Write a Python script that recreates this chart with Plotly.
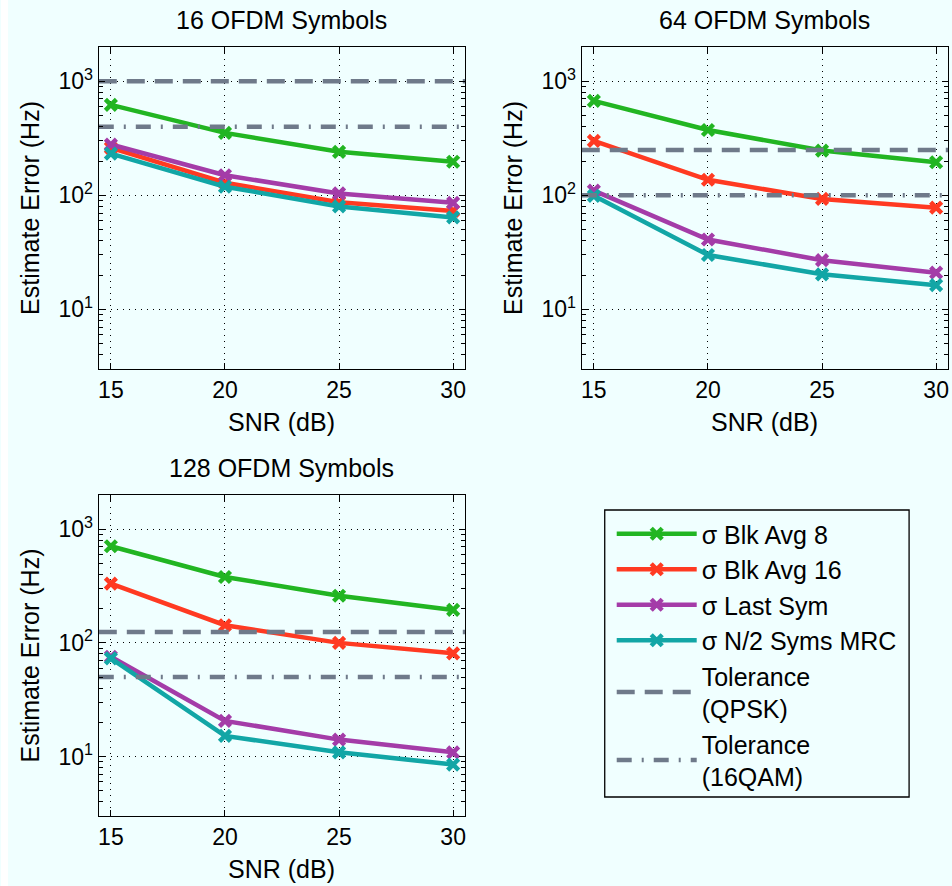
import math
import plotly.graph_objects as go

# ---------------- data ----------------
snr = [15, 20, 25, 30]
series_names = ["σ Blk Avg 8", "σ Blk Avg 16", "σ Last Sym", "σ N/2 Syms MRC"]
series_colors = ["#22B522", "#FF3A22", "#A43CA8", "#12A6A6"]

blk8_16 = [621, 353, 241, 197]
blk16_16 = [261, 129, 87, 73]
last_16 = [279, 150, 104, 86]
mrc_16 = [232, 119, 80, 64]

blk8_64 = [673, 374, 247, 195]
blk16_64 = [300, 137, 93, 78]
last_64 = [110, 41, 27, 21]
mrc_64 = [99, 30, 20.3, 16.3]

blk8_128 = [708, 380, 260, 195]
blk16_128 = [332, 143, 100, 81]
last_128 = [75.5, 20.6, 14.1, 10.9]
mrc_128 = [73, 15.2, 10.9, 8.5]

tol_qpsk = [1000, 250, 125]
tol_16qam = [400, 100, 50]
tol_names = ["Tolerance<br>(QPSK)", "Tolerance<br>(16QAM)"]
panel_titles = ["16 OFDM Symbols", "64 OFDM Symbols", "128 OFDM Symbols"]

y_tickvals = [10, 100, 1000]
y_ticktext = ["10<sup>1</sup>", "10<sup>2</sup>", "10<sup>3</sup>"]
y_minor_vals = [m * d for d in [1, 10, 100, 1000] for m in range(2, 10)]

x_range = [14.47, 30.52]
y_range_vals = [3, 2000]

panels = [
    [blk8_16, blk16_16, last_16, mrc_16],
    [blk8_64, blk16_64, last_64, mrc_64],
    [blk8_128, blk16_128, last_128, mrc_128],
]

# ---------------- styling ----------------
W, H = 952, 886
BG = "#F0FFFF"
TOL_COLOR = "#6F7A8A"
FONT = "Liberation Sans, Arial, Helvetica, sans-serif"
FS = 25

def px_x(p):
    return p / W

def px_y(p):
    return 1 - p / H

# plot boxes in pixels (left, right, top, bottom)
boxes = [
    (98, 465, 47, 369),
    (582, 949, 47, 369),
    (98, 465, 495, 816),
]

fig = go.Figure()

for i, vals in enumerate(panels):
    xa = "x" if i == 0 else f"x{i+1}"
    ya = "y" if i == 0 else f"y{i+1}"
    for j, v in enumerate(vals):
        fig.add_trace(go.Scatter(
            x=snr, y=v, mode="lines+markers", name=series_names[j],
            line=dict(color=series_colors[j], width=4.5),
            marker=dict(symbol="x-thin", size=11, color=series_colors[j],
                        line=dict(color=series_colors[j], width=4.5)),
            xaxis=xa, yaxis=ya, showlegend=(i == 0), legendgroup=f"g{j}",
        ))
    fig.add_trace(go.Scatter(
        x=x_range, y=[tol_qpsk[i], tol_qpsk[i]], mode="lines", name=tol_names[0],
        line=dict(color=TOL_COLOR, width=4.5, dash="18px,10px"),
        xaxis=xa, yaxis=ya, showlegend=(i == 0), legendgroup="t0",
    ))
    fig.add_trace(go.Scatter(
        x=x_range, y=[tol_16qam[i], tol_16qam[i]], mode="lines", name=tol_names[1],
        line=dict(color=TOL_COLOR, width=4.5, dash="15px,10px,2px,10px"),
        xaxis=xa, yaxis=ya, showlegend=(i == 0), legendgroup="t1",
    ))

common = dict(
    showline=True, linecolor="black", linewidth=1.3, mirror="allticks",
    ticks="inside", ticklen=6, tickcolor="black", tickwidth=1,
    showgrid=True, gridcolor="black", griddash="1px,5px", gridwidth=1,
    zeroline=False, tickfont=dict(size=23, color="black", family=FONT),
)

layout = dict(
    width=W, height=H, margin=dict(l=0, r=0, t=0, b=0),
    paper_bgcolor=BG, plot_bgcolor=BG,
    font=dict(family=FONT, size=FS, color="black"),
    showlegend=True,
)

annotations = []
for i, (l, r, t, b) in enumerate(boxes):
    xkey = "xaxis" if i == 0 else f"xaxis{i+1}"
    ykey = "yaxis" if i == 0 else f"yaxis{i+1}"
    yname = "y" if i == 0 else f"y{i+1}"
    xname = "x" if i == 0 else f"x{i+1}"
    layout[xkey] = dict(common, domain=[px_x(l), px_x(r)], anchor=yname,
                        range=x_range, tickvals=snr)
    layout[ykey] = dict(common, domain=[px_y(b), px_y(t)], anchor=xname,
                        type="log",
                        range=[math.log10(y_range_vals[0]), math.log10(y_range_vals[1])],
                        tickvals=y_tickvals, ticktext=y_ticktext,
                        minor=dict(ticks="inside", ticklen=4, tickvals=y_minor_vals,
                                   tickcolor="black", tickwidth=1, showgrid=False))
    cx = (l + r) / 2
    cy = (t + b) / 2
    annotations.append(dict(text=panel_titles[i], x=px_x(cx), y=px_y(t - 27),
                            xref="paper", yref="paper", showarrow=False,
                            xanchor="center", yanchor="middle",
                            font=dict(size=FS, family=FONT, color="black")))
    annotations.append(dict(text="SNR (dB)", x=px_x(cx), y=px_y(b + 53),
                            xref="paper", yref="paper", showarrow=False,
                            xanchor="center", yanchor="middle",
                            font=dict(size=FS, family=FONT, color="black")))
    annotations.append(dict(text="Estimate Error (Hz)", x=px_x(l - 69), y=px_y(cy),
                            xref="paper", yref="paper", showarrow=False,
                            textangle=-90, xanchor="center", yanchor="middle",
                            font=dict(size=FS, family=FONT, color="black")))

layout["annotations"] = annotations
layout["legend"] = dict(
    x=px_x(612), y=px_y(511), xanchor="left", yanchor="top",
    bgcolor="rgba(0,0,0,0)", borderwidth=0,
    font=dict(size=FS, family=FONT, color="black"),
    itemwidth=80, tracegroupgap=6, traceorder="normal",
)
layout["shapes"] = [
    dict(type="rect", xref="paper", yref="paper",
         x0=px_x(605), x1=px_x(910), y0=px_y(797), y1=px_y(510),
         line=dict(color="black", width=1.3), fillcolor="rgba(0,0,0,0)", layer="below"),
    dict(type="rect", xref="paper", yref="paper",
         x0=0, x1=px_x(7), y0=0, y1=1,
         line=dict(width=0), fillcolor="white", layer="below"),
]

fig.update_layout(**layout)
fig.write_html("out.html")
